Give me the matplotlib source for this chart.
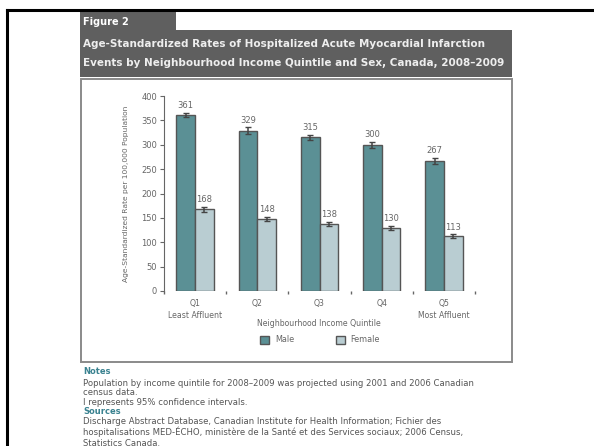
import matplotlib
matplotlib.use("Agg")
import matplotlib.pyplot as plt
from matplotlib.patches import Rectangle
from matplotlib.lines import Line2D
import numpy as np

plt.rcParams['font.family'] = ['DejaVu Sans']

# AMI hospitalization rates per 100,000, by income quintile
quintiles = ["Q1", "Q2", "Q3", "Q4", "Q5"]
quintile_notes = ["Least Affluent", "", "", "", "Most Affluent"]
male = [361, 329, 315, 300, 267]
female = [168, 148, 138, 130, 113]
male_ci = [5, 7, 6, 6, 6]
female_ci = [5, 4, 4, 4, 4]
yticks = [0, 50, 100, 150, 200, 250, 300, 350, 400]

title = ["Age-Standardized Rates of Hospitalized Acute Myocardial Infarction",
         "Events by Neighbourhood Income Quintile and Sex, Canada, 2008\u20132009"]
notes = ["Population by income quintile for 2008\u20132009 was projected using 2001 and 2006 Canadian",
         "census data.",
         "I represents 95% confidence intervals."]
sources = ["Discharge Abstract Database, Canadian Institute for Health Information; Fichier des",
           "hospitalisations MED-\u00c9CHO, minist\u00e8re de la Sant\u00e9 et des Services sociaux; 2006 Census,",
           "Statistics Canada."]

W, H = 594, 446
MALE_C = "#5b9095"
FEMALE_C = "#b9cdd2"
EDGE = "#555555"
HEAD = "#5f5f5f"
TEXT = "#555555"
GREY = "#666666"


def fx(x):
    return x / W


def fy(y):
    return 1 - y / H


fig = plt.figure(figsize=(W / 100, H / 100), dpi=100)

# outer page frame (top and left rules)
fig.add_artist(Line2D([fx(7), fx(W)], [fy(10), fy(10)], color="black", lw=2.2))
fig.add_artist(Line2D([fx(7), fx(7)], [fy(10), fy(H)], color="black", lw=2.2))

# header tab and title band
fig.add_artist(Rectangle((fx(80), fy(32)), fx(176) - fx(80), fy(12) - fy(32),
                         facecolor=HEAD, edgecolor="none"))
fig.add_artist(Rectangle((fx(80), fy(77)), fx(512) - fx(80), fy(30) - fy(77),
                         facecolor=HEAD, edgecolor="none"))
fig.text(fx(83), fy(22), "Figure 2", color="white", fontsize=7, fontweight="bold", va="center")
for i, line in enumerate(title):
    fig.text(fx(83), fy(44 + i * 18.5), line, color="#eeeeee", fontsize=7.5, fontweight="bold",
             va="center")

# chart box
fig.add_artist(Rectangle((fx(81), fy(362)), fx(512) - fx(81), fy(79) - fy(362),
                         facecolor="none", edgecolor="#8a8a8a", lw=1.4))

ax = fig.add_axes([fx(164), fy(291), fx(475) - fx(164), fy(96) - fy(291)])
x = np.arange(len(quintiles))
bw = 0.3
ax.bar(x - bw / 2, male, bw, color=MALE_C, edgecolor=EDGE, linewidth=1.0, label="Male")
ax.bar(x + bw / 2, female, bw, color=FEMALE_C, edgecolor=EDGE, linewidth=1.0, label="Female")
ax.errorbar(x - bw / 2, male, yerr=male_ci, fmt="none", ecolor="#444444", elinewidth=1.1, capsize=2)
ax.errorbar(x + bw / 2, female, yerr=female_ci, fmt="none", ecolor="#444444", elinewidth=1.1, capsize=2)

for xi, v, e in zip(x - bw / 2, male, male_ci):
    ax.text(xi, v + e + 5, str(v), ha="center", va="bottom", fontsize=6, color=GREY)
for xi, v, e in zip(x + bw / 2, female, female_ci):
    ax.text(xi, v + e + 5, str(v), ha="center", va="bottom", fontsize=6, color=GREY)

ax.set_xlim(-0.5, len(quintiles) - 0.5)
ax.set_ylim(0, 400)
ax.set_yticks(yticks)
ax.tick_params(axis="y", labelsize=6, labelcolor=GREY, color=GREY, length=3, width=0.8, pad=2)
ax.set_xticks(x)
ax.set_xticklabels([q + ("\n" + n if n else "") for q, n in zip(quintiles, quintile_notes)],
                   fontsize=5.6, color=GREY, linespacing=1.4)
ax.tick_params(axis="x", length=0, pad=6)
ax.set_xticks(np.arange(-0.5, len(quintiles)), minor=True)
ax.tick_params(axis="x", which="minor", length=2, width=1, color=GREY)
for s in ["top", "right", "bottom"]:
    ax.spines[s].set_visible(False)
ax.spines["left"].set_color(GREY)
ax.spines["left"].set_linewidth(0.8)

ax.set_ylabel("Age-Standardized Rate per 100,000 Population", fontsize=5.4, color=GREY, labelpad=9)
fig.text(fx(319), fy(324), "Neighbourhood Income Quintile", ha="center", va="center",
         fontsize=5.6, color=GREY)

handles, labels = ax.get_legend_handles_labels()
fig.legend(handles, labels, loc="center", bbox_to_anchor=(fx(320), fy(340)), ncol=2,
           frameon=False, fontsize=5.8, labelcolor=GREY, handlelength=1.1, handleheight=1.1,
           columnspacing=5.2, handletextpad=0.7)

# notes and sources
fig.text(fx(83), fy(371), "Notes", color="#3a8290", fontsize=6, fontweight="bold", va="center")
for i, line in enumerate(notes):
    fig.text(fx(83), fy(383 + i * 9.8), line, color=TEXT, fontsize=6.15, va="center")
fig.text(fx(83), fy(411), "Sources", color="#3a8290", fontsize=6, fontweight="bold", va="center")
for i, line in enumerate(sources):
    fig.text(fx(83), fy(421 + i * 11), line, color=TEXT, fontsize=6.15, va="center")

fig.savefig("out.png", dpi=100)
